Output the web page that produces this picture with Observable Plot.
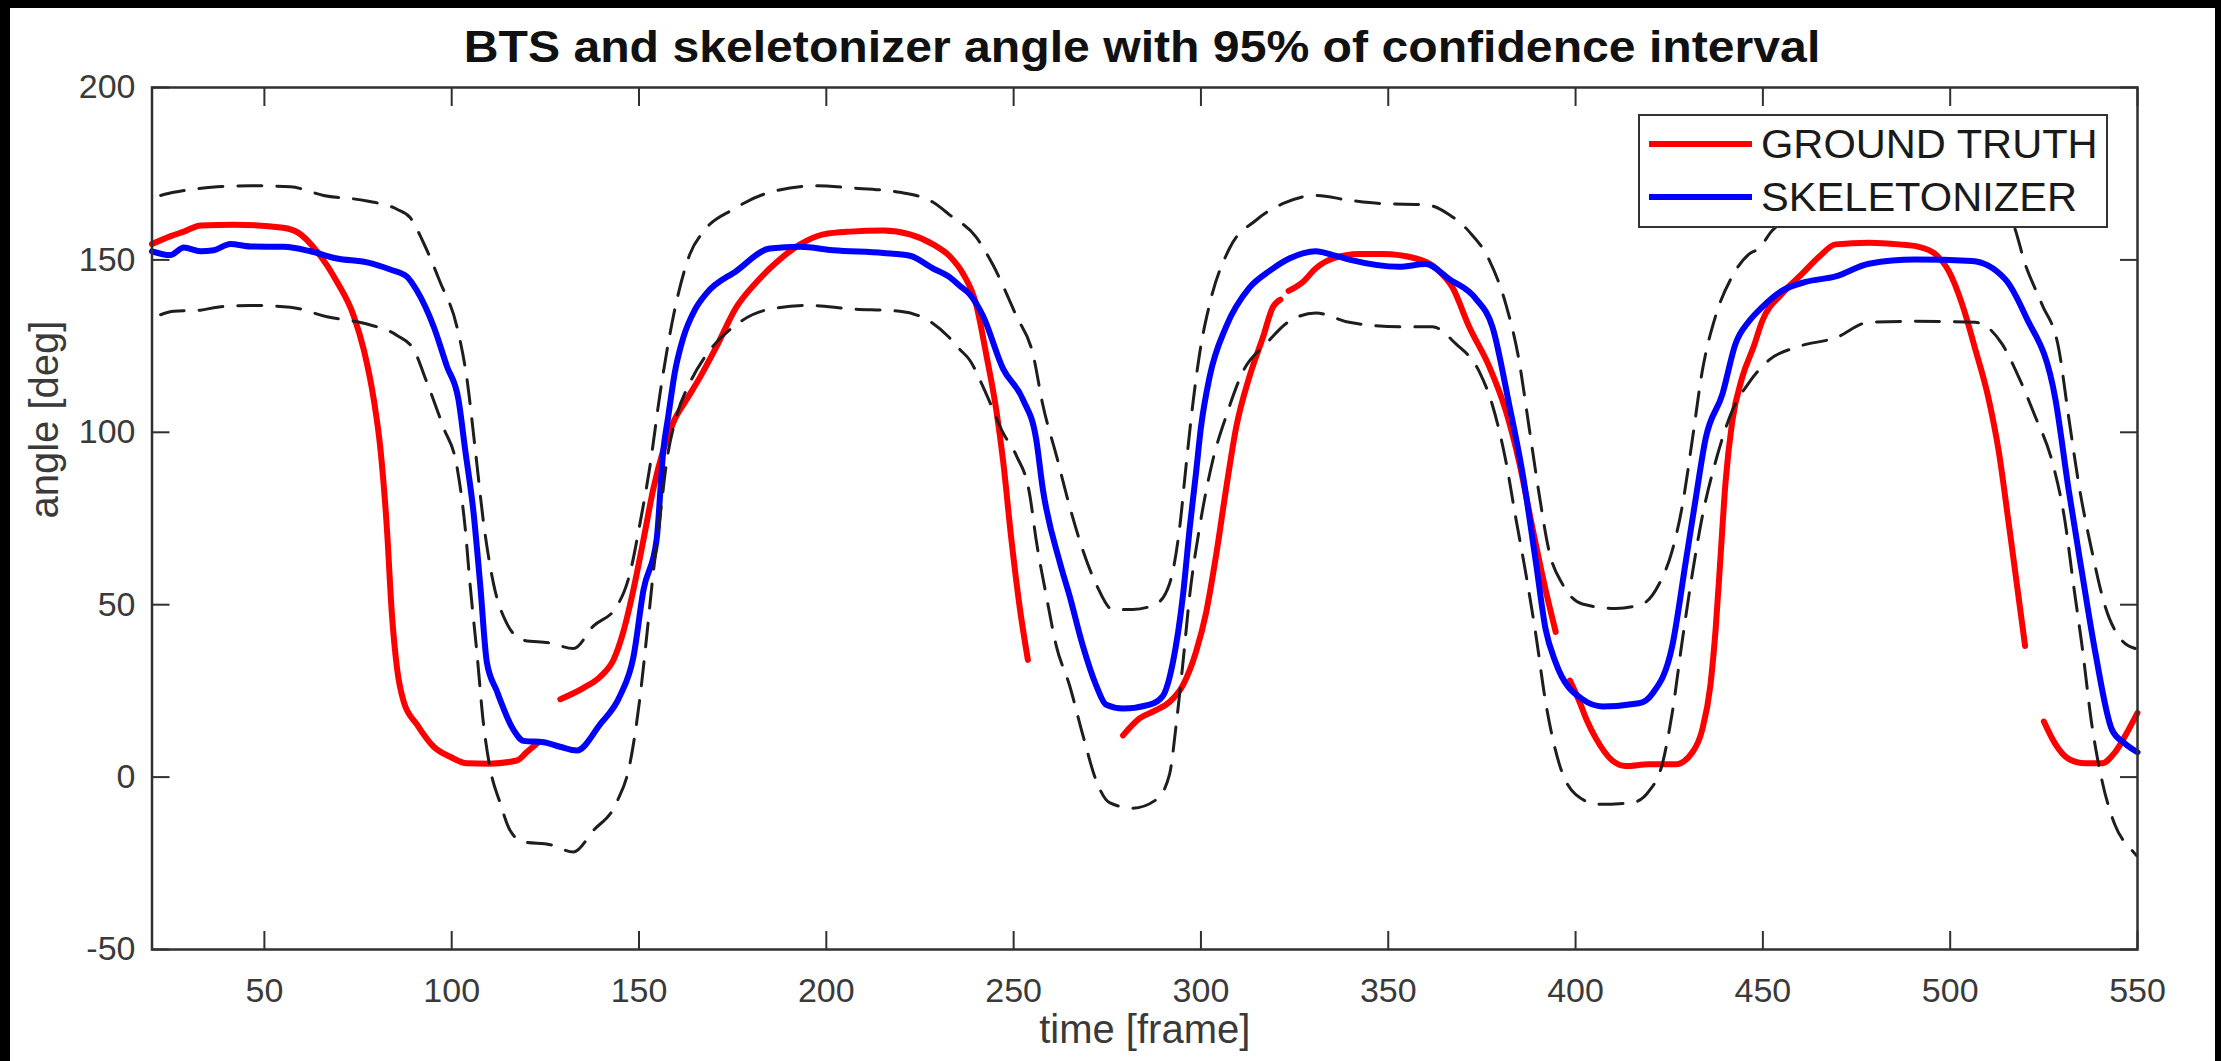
<!DOCTYPE html>
<html>
<head>
<meta charset="utf-8">
<script src="https://cdn.jsdelivr.net/npm/d3@7"></script>
<script src="https://cdn.jsdelivr.net/npm/@observablehq/plot@0.6"></script>
<style>
  html, body { margin: 0; padding: 0; background: #000; width: 2221px; height: 1061px; overflow: hidden; }
  #wrap { position: absolute; left: 10px; top: 8px; width: 2205px; height: 1053px; background: #fff; overflow: hidden;
          font-family: "Liberation Sans", Arial, Helvetica, sans-serif; }
  #title { position: absolute; left: 1132px; top: 15.6px; font-size: 45px; line-height: 45px; font-weight: bold; color: #111;
           white-space: nowrap; transform: translateX(-50%) scaleX(1.07); }
  #legend { position: absolute; left: 1628px; top: 106px; width: 466px; height: 110px; border: 2px solid #333; background: #fff; }
  .lgline { position: absolute; left: 9px; width: 103px; height: 6px; }
  .lgtext { position: absolute; left: 121px; font-size: 40px; line-height: 40px; color: #1a1a1a; white-space: nowrap; transform-origin: left center; transform: scaleX(1.04); }
</style>
</head>
<body>
<div id="wrap">
  <div id="chart"></div>
  <div id="title"></div>
  <div id="legend"></div>
</div>
<script>
// ---------- data ----------
const titleText = "BTS and skeletonizer angle with 95% of confidence interval";
const xLabel = "time [frame]";
const yLabel = "angle [deg]";
const seriesNames = ["GROUND TRUTH", "SKELETONIZER"];
const seriesColors = ["#ff0000", "#0000ff"];
const xTicks = [50, 100, 150, 200, 250, 300, 350, 400, 450, 500, 550];
const yTicks = [-50, 0, 50, 100, 150, 200];

// Ground truth (null = gap in the signal)
const gtFrame = [20, 25, 28.5, 33, 42, 55, 59, 64, 69.4, 73.8, 76.5, 79.2, 81, 82.7, 84, 85.4, 87.2, 90.7, 95.2, 99.6, 104, 110, 117.4, 120, 123,
  null,
  129, 135.2, 139.6, 143.2, 145.8, 148.5, 151.2, 153.8, 156.5, 159.2, 162.7, 166.3, 170.7, 176, 181.4, 186.7, 193, 199.2, 206.3, 215.2, 222.3, 228.5, 233, 236.5, 240, 242.7, 245.4, 247.2, 249.4, 251.6, 253.8,
  null,
  279.2, 283.6, 288, 291.6, 295.2, 298.7, 301.4, 304, 306.7, 309.4, 312.9, 316.5, 319.2, 321.2,
  null,
  323.4, 327.2, 330.7, 335.2, 342.3, 348.5, 357.4, 362.7, 367.2, 371.6, 376.9, 381.4, 384.9, 388.5, 392, 394.7,
  null,
  398.5, 401, 403, 405.4, 409.8, 413.4, 419.6, 426.7, 431.2, 433.8, 436, 437.4, 438.7, 440, 441.8, 444.5, 447.6, 449.8, 455.2, 460.5, 465, 469.4, 478.3, 486.3, 491.6, 496, 499.6, 503.2, 506.7, 510.3, 512.9, 515.6, 517.8, 520,
  null,
  525, 528, 531.6, 536, 540.5, 544, 547.6, 550];
const gtAngle = [154.6, 156.9, 158.2, 160, 160.2, 159.3, 157.9, 152.5, 143.6, 133.9, 124.1, 109.5, 94.9, 72.2, 47.8, 31.6, 21.8, 15.3, 8.8, 5.9, 4, 3.9, 4.8, 7.2, 10,
  null,
  22.6, 25.9, 29.1, 34, 42.1, 54.3, 68.9, 83.5, 94.9, 103, 109.5, 116, 124.9, 136.3, 143.6, 149.3, 154.5, 157.4, 158.2, 158.5, 157.4, 154.5, 151, 146, 137.1, 122.5, 106.2, 91.6, 68.9, 49.4, 34,
  null,
  12.1, 17, 19.4, 21.8, 26.7, 36.4, 47.8, 64, 83.5, 101.4, 116, 127.4, 136.3, 138.5,
  null,
  141, 143.6, 147.6, 150.4, 151.7, 151.7, 150.4, 147.6, 141.9, 130.6, 119.2, 106.2, 91.6, 72.2, 54.3, 42.1,
  null,
  28, 22, 16.5, 11.3, 4.8, 3.2, 3.7, 3.7, 7.2, 13.7, 26.7, 43, 64, 85.1, 103, 116, 125, 132.2, 140.3, 146, 150.9, 154.5, 155, 154.5, 153.8, 151.7, 146.8, 137.1, 124.1, 109.5, 94.9, 73.8, 55.9, 38,
  null,
  16.1, 9.7, 5.3, 4, 4, 7.2, 13.7, 18.6];

// Skeletonizer
const skFrame = [20, 24.9, 28.5, 32.9, 36.5, 40.9, 46.3, 55.2, 62.3, 69.4, 77.4, 83.6, 88, 90.7, 95.2, 98.7, 101.8, 103.6, 105.8, 107.6, 109.4, 112, 116.5, 119.2, 124.5, 128.9, 133.4, 139.6, 144.9, 148.5, 151.2, 154.7, 156.5, 157.8, 159.6, 161.8, 164.9, 168, 176, 184.9, 193, 201.8, 215.2, 222.3, 228.5, 232.9, 235.6, 238.3, 241.8, 247.2, 252.5, 256, 257.8, 262.3, 264.9, 268.5, 272, 274.7, 279.2, 286.3, 289.8, 292.5, 295.2, 297, 298.7, 300, 302.3, 306.7, 312.9, 318.3, 323.6, 330.7, 335.2, 339.6, 352.9, 360, 366.3, 373.4, 377.8, 382.3, 385.8, 389.4, 392, 394.7, 401.8, 407.2, 416.9, 420.5, 425.8, 429.4, 432, 434.7, 439.2, 442.7, 446.3, 449.8, 455.2, 461.4, 469.4, 478.3, 490.7, 505.8, 514.7, 520.1, 528.1, 531.6, 535.2, 538.7, 543.2, 546.7, 550];
const skAngle = [152.5, 151.4, 153.6, 152.5, 152.8, 154.6, 153.9, 153.8, 152.5, 150.4, 149.3, 147.2, 145.2, 141.1, 130.6, 119.2, 109.5, 94.9, 77, 55.9, 33.2, 25.1, 13.7, 10.5, 10.1, 8.8, 7.7, 15.3, 23.5, 34.8, 54.3, 68.9, 94.9, 104.6, 117.6, 127.4, 135.5, 140.3, 146.8, 153.3, 153.8, 152.8, 152, 151.2, 147.5, 145, 142.5, 140, 133.8, 118.4, 109.5, 98.1, 83.5, 62.4, 52.7, 38, 26.7, 21, 19.9, 21, 23.5, 33.2, 52.7, 72.2, 88.4, 101.4, 116, 130.6, 141.9, 146.8, 150.4, 152.5, 151.4, 150.1, 148, 148.8, 144.4, 138.7, 130.6, 107.9, 88.4, 62.4, 42.9, 33.2, 22.6, 20.5, 21.4, 24.2, 38, 62.4, 80.3, 98.1, 111.1, 125.7, 132.2, 136.3, 141.1, 143.6, 145.2, 148.9, 150.1, 149.7, 144.4, 133.8, 109.5, 83.5, 59.2, 36.4, 13.7, 9.7, 7.2];

// Upper bound of the 95% confidence interval
const upFrame = [22.3, 25.8, 30.3, 37.4, 46.3, 56.9, 65.8, 77.4, 85.4, 88.9, 92.5, 96.9, 101.4, 104, 106.3, 108.5, 111.2, 114.7, 119.2, 126.3, 132.5, 137.8, 144, 147.6, 150.3, 152.9, 155.6, 159.2, 163.6, 167.2, 175.2, 184.9, 197.4, 206.3, 219.6, 228.5, 233, 240, 244.5, 250.7, 255.2, 257.8, 261.4, 264.9, 268.5, 272, 276.5, 281.8, 288, 291.6, 294.3, 296, 297.8, 299.6, 302.3, 307.6, 314.7, 321.8, 330.7, 339.6, 348.5, 360, 366.3, 371.6, 376.9, 381.4, 384.9, 387.6, 390.3, 392.9, 396.5, 401.8, 410.7, 417.8, 422.3, 425.8, 428.5, 431.2, 433.8, 437.4, 441.8, 446.3, 448.9, 452.5, 460, 470, 480, 490, 500, 508, 513, 516.5, 520.1, 524.5, 529, 531.6, 534.3, 537.8, 541.4, 545.8, 549.4];
const upAngle = [168.7, 169.6, 170.4, 171.2, 171.5, 171.2, 168.7, 167.1, 164.7, 162.3, 154.9, 143.6, 130.6, 116, 94.9, 73.8, 55.9, 44.6, 39.7, 38.9, 37.3, 43.8, 49.4, 59.2, 73.8, 90, 111.1, 133.8, 151.7, 158.2, 164.7, 169.6, 171.5, 170.9, 169.6, 166.7, 163, 156.6, 148.5, 133.8, 122.5, 107.9, 93.3, 78.7, 65.7, 56, 48.6, 48.6, 50.2, 56, 72.2, 90, 107.9, 122.5, 137.1, 153.3, 161.5, 166.3, 168.7, 167.3, 166.3, 166, 163.1, 158.2, 150.1, 137.1, 120.9, 101.4, 81.9, 65.7, 56, 50.2, 48.9, 50.2, 56, 65.7, 78.7, 98.1, 117.6, 133.8, 145.2, 151.7, 153.3, 158.5, 163, 166, 168, 169, 168.5, 167, 164, 161, 148.5, 137.1, 124.1, 104.6, 85.1, 65.7, 49.4, 39.7, 37.3];

// Lower bound of the 95% confidence interval
const loFrame = [22.3, 25.8, 32.9, 37.4, 46.3, 56.9, 66.7, 77.4, 85.4, 89.8, 93.4, 97.8, 101.4, 103.6, 104.9, 106.7, 108.5, 110.3, 112.9, 115.6, 119.2, 126.3, 132.5, 137.8, 144, 147.6, 150.3, 152.1, 153.8, 155.6, 157.4, 160, 163.6, 168, 175.2, 184.1, 195.6, 206.3, 219.6, 227.6, 232.9, 235.6, 238.3, 242.7, 247.2, 250.7, 254.3, 256, 258.7, 261.4, 264.9, 268.5, 272, 275.6, 281.8, 288, 291.6, 293.4, 295.2, 297, 299.6, 303.1, 306.7, 311.2, 317.4, 323.6, 330.7, 339.6, 352.9, 361.8, 368, 374.3, 377.8, 381.4, 384, 386.7, 389.4, 392, 395.6, 400, 406.3, 415.2, 419.6, 423.2, 425.8, 428.5, 431.2, 433.8, 437.4, 441.8, 446.3, 451.6, 459.6, 469.4, 478.3, 490.7, 506.7, 513.8, 518.3, 522.7, 527.2, 530.7, 532.9, 535.2, 537.8, 540.5, 544, 548.5, 549.8];
const loAngle = [134.1, 135.1, 135.4, 136.3, 136.8, 136.3, 133.5, 131.4, 128.1, 124.1, 114.4, 101.4, 90, 72.2, 55.9, 36.4, 15.3, 2.3, -7.4, -15.5, -18.8, -19.6, -21.7, -15.5, -7.4, 4, 23.5, 41.3, 59.2, 75.4, 91.6, 104.6, 114.4, 122.5, 130.6, 135.5, 136.8, 135.8, 135.1, 132.2, 127.4, 124.1, 120.9, 111.1, 99.8, 93.3, 81.9, 68.9, 52.7, 38, 26.7, 12.1, -0.9, -7.4, -9, -6.6, 0.7, 15.3, 33.2, 52.7, 72.2, 91.6, 104.6, 117.6, 125.7, 132.2, 134.6, 131.9, 130.6, 130.6, 125.7, 117.6, 107.9, 91.6, 75.4, 59.2, 41.3, 21.8, 4, -5, -7.9, -7.4, -4.1, 4, 18.6, 39.7, 59.2, 75.4, 91.6, 106.2, 114.4, 120.9, 124.9, 127.4, 131.9, 132.2, 131.9, 125.7, 116, 104.6, 91.6, 73.8, 55.9, 38, 15.3, -0.9, -13.9, -21.2, -22.8];

// ---------- chart ----------
const FONT = '"Liberation Sans", Arial, Helvetica, sans-serif';
const TEXT_GRAY = "#3a3a3a";
const idx = (a) => d3.range(a.length);
const lineOf = (fx, fy, opts) => Plot.line(idx(fx), {x: fx, y: fy, curve: "monotone-x", ...opts});
const plainNum = (d) => String(d);

const chart = Plot.plot({
  width: 2205,
  height: 1053,
  marginLeft: 141.5,
  marginRight: 78,
  marginTop: 79,
  marginBottom: 112,
  x: {domain: [20, 550]},
  y: {domain: [-50, 200]},
  style: {fontFamily: FONT, fontSize: "34px", color: TEXT_GRAY, background: "transparent", overflow: "visible"},
  marks: [
    lineOf(gtFrame, gtAngle, {stroke: seriesColors[0], strokeWidth: 6}),
    lineOf(skFrame, skAngle, {stroke: seriesColors[1], strokeWidth: 6}),
    lineOf(upFrame, upAngle, {stroke: "#1e1e1e", strokeWidth: 3, strokeDasharray: "24,15"}),
    lineOf(loFrame, loAngle, {stroke: "#1e1e1e", strokeWidth: 3, strokeDasharray: "24,15"}),
    Plot.frame({stroke: "#303030", strokeWidth: 2.5}),
    Plot.axisX({anchor: "bottom", ticks: xTicks, tickSize: -18, tickPadding: 46, tickFormat: plainNum, stroke: "#303030", strokeWidth: 2, fontSize: 34, fill: TEXT_GRAY, label: null}),
    Plot.axisX({anchor: "top", ticks: xTicks, tickSize: -18, tickFormat: () => "", stroke: "#303030", strokeWidth: 2, label: null}),
    Plot.axisY({anchor: "left", ticks: yTicks, tickSize: -18, tickPadding: 34.5, tickFormat: plainNum, stroke: "#303030", strokeWidth: 2, fontSize: 34, fill: TEXT_GRAY, label: null}),
    Plot.axisY({anchor: "right", ticks: yTicks, tickSize: -18, tickFormat: () => "", stroke: "#303030", strokeWidth: 2, label: null}),
    Plot.text([xLabel], {frameAnchor: "bottom", dy: 93, fontSize: 40, fill: TEXT_GRAY}),
    Plot.text([yLabel], {frameAnchor: "left", rotate: -90, dx: -107, fontSize: 40, fill: TEXT_GRAY})
  ]
});
document.getElementById("chart").appendChild(chart);

document.getElementById("title").textContent = titleText;

const legend = document.getElementById("legend");
const rowTops = [28, 81];
seriesNames.forEach((name, i) => {
  const ln = document.createElement("div");
  ln.className = "lgline";
  ln.style.top = (rowTops[i] - 3) + "px";
  ln.style.background = seriesColors[i];
  legend.appendChild(ln);
  const tx = document.createElement("div");
  tx.className = "lgtext";
  tx.style.top = (rowTops[i] + 14.3 - 33.9) + "px";
  tx.textContent = name;
  legend.appendChild(tx);
});
</script>
</body>
</html>
